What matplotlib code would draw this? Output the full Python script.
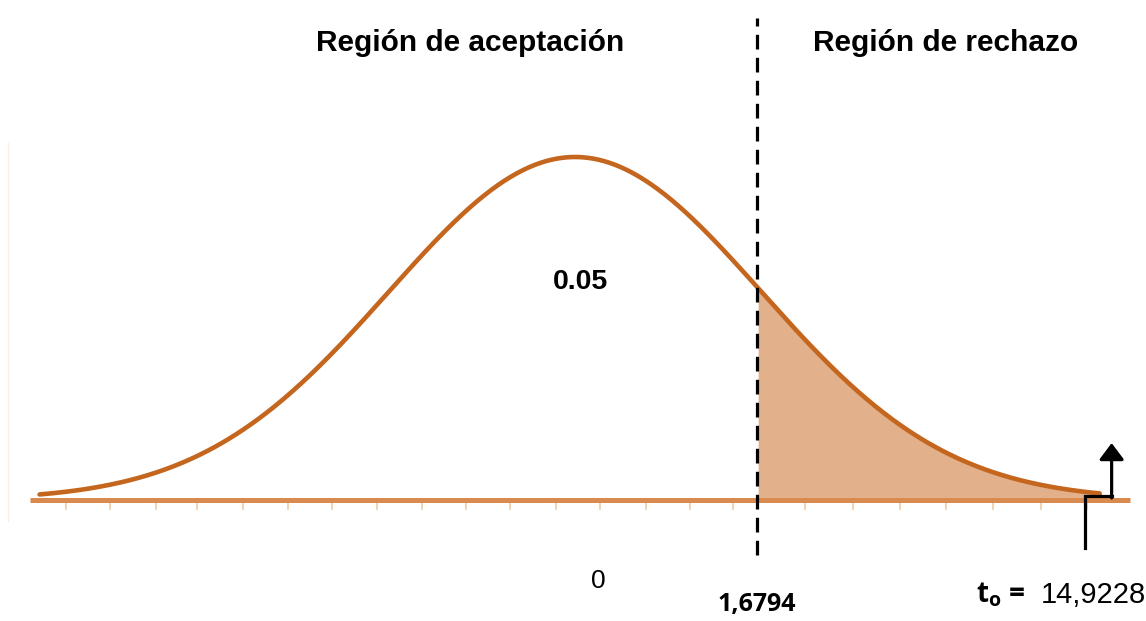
import numpy as np
import matplotlib.pyplot as plt

# valores del esquema (unidades del eje dibujado)
media = 0.0
sigma = 1.72
t_critico = 1.6794
x_inicio, x_fin = -4.94, 4.84
eje_ini, eje_fin = -5.03, 5.12
ticks_x = [-4.70, -4.29, -3.87, -3.49, -3.06, -2.65, -2.24, -1.83, -1.41, -1.01,
           -0.60, -0.18, 0.23, 0.65, 1.06, 1.46, 2.12, 2.56, 3.00, 3.42, 3.86, 4.30, 4.72]
alfa_txt = "0.05"
t_obs_txt = "14,9228"
t_crit_txt = "1,6794"

curva = "#C4661E"
eje_col = "#D98A4E"
relleno = "#E2B08A"
tick_col = "#EFC9A8"

x = np.linspace(x_inicio, x_fin, 600)
y = np.exp(-0.5 * ((x - media) / sigma) ** 2)

fig = plt.figure(figsize=(11.46, 6.21), dpi=100)
ax = fig.add_axes([0, 0, 1, 1])
ax.set_xlim(-5.305, 5.267)
ax.set_ylim(-121 / 343, 500 / 343)
ax.axis('off')

# eje horizontal y marcas
ax.plot([eje_ini, eje_fin], [0, 0], color=eje_col, lw=3.6, solid_capstyle='butt', zorder=2)
for tx in ticks_x:
    ax.plot([tx, tx], [-0.005, -0.025], color=tick_col, lw=1.2, zorder=1)

# linea tenue a la izquierda
ax.plot([-5.23, -5.23], [1.04, -0.06], color="#FBEDE2", lw=1, zorder=0)

# region de rechazo
m = x >= t_critico
ax.fill_between(x[m], 0, y[m], color=relleno, lw=0, zorder=1)
ax.plot(x, y, color=curva, lw=3.3, solid_capstyle='round', zorder=3)

# valor critico
ax.plot([t_critico, t_critico], [-0.16, 1.405], color='black', lw=2.3,
        dashes=(4.6, 2.6), zorder=4)

# estadistico observado (flecha)
xa, xb = 4.70, 4.95
ax.plot([xa, xa, xb], [-0.14, 0.012, 0.012], color='black', lw=2.3,
        solid_joinstyle='miter', zorder=5)
ax.annotate('', xy=(xb, 0.166), xytext=(xb, 0.006),
            arrowprops=dict(arrowstyle='-|>,head_length=1.0,head_width=0.75',
                            color='black', lw=2.3, shrinkA=0, shrinkB=0), zorder=5)

font = 'Liberation Sans'
ax.text(-0.97, 1.332, "Región de aceptación", ha='center', va='center',
        fontsize=21.5, fontweight='bold', family=font)
ax.text(3.42, 1.332, "Región de rechazo", ha='center', va='center',
        fontsize=21.5, fontweight='bold', family=font)
ax.text(0.05, 0.636, alfa_txt, ha='center', va='center',
        fontsize=20.5, fontweight='bold', family=font)
ax.text(0.21, -0.237, "0", ha='center', va='center', fontsize=19, family=font)
ax.text(1.68, -0.306, t_crit_txt, ha='center', va='center',
        fontsize=18, fontweight='bold', family='Open Sans')
ax.text(4.15, -0.277, "t$_\\mathregular{o}$ =", ha='right', va='center',
        fontsize=20, fontweight='bold', family='Open Sans')
ax.text(5.265, -0.277, t_obs_txt, ha='right', va='center', fontsize=21, family=font)

fig.savefig("out.png", dpi=100)
